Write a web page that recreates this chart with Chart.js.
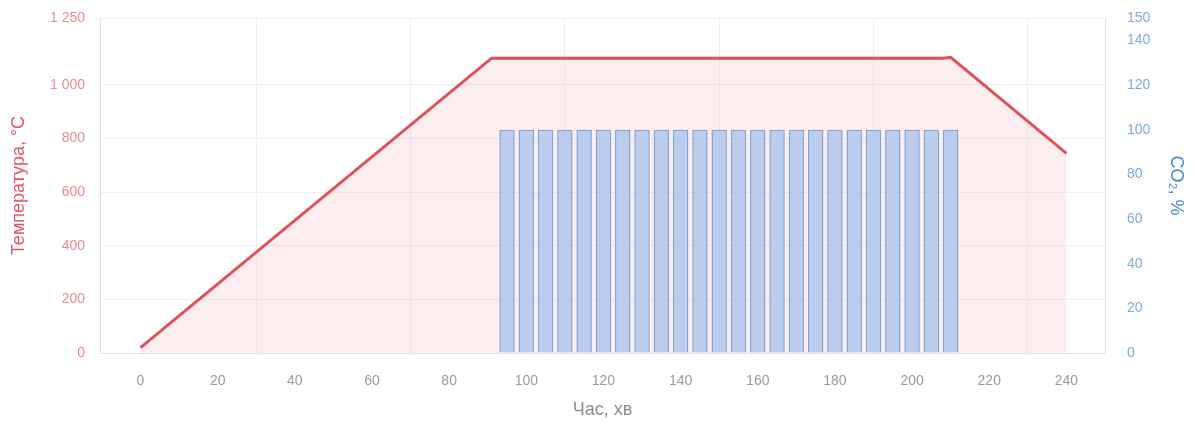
<!DOCTYPE html>
<html>
<head>
<meta charset="utf-8">
<script src="https://cdn.jsdelivr.net/npm/chart.js@4/dist/chart.umd.min.js"></script>
<style>
    html, body { margin: 0; padding: 0; background: #fff; }
    #wrap { width: 1195px; height: 425px; }
</style>
</head>
<body>
<div id="wrap"><canvas id="chart"></canvas></div>
<script>
// Temperature curve (minutes, °C)
const tempTimes = [0, 91, 208, 210, 240];
const tempValues = [20, 1100, 1100, 1103, 745];

// CO2 pulses (minutes, %)
const co2Times = [95, 100, 105, 110, 115, 120, 125, 130, 135, 140, 145, 150,
                  155, 160, 165, 170, 175, 180, 185, 190, 195, 200, 205, 210];
const co2Values = [100, 100, 100, 100, 100, 100, 100, 100, 100, 100, 100, 100,
                   100, 100, 100, 100, 100, 100, 100, 100, 100, 100, 100, 100];

// Axis ticks
const xTicks = [0, 20, 40, 60, 80, 100, 120, 140, 160, 180, 200, 220, 240];
const xGridLines = [30, 70, 110, 150, 190, 230];
const tempTicks = [0, 200, 400, 600, 800, 1000, 1250];
const co2Ticks = [0, 20, 40, 60, 80, 100, 120, 140, 150];

const FONT = "'Liberation Sans', Arial, sans-serif";
const GRID = '#efefef';
const BORDER = '#e2e2e2';

// "1250" -> "1 250"
const spaced = v => String(v).replace(/\B(?=(\d{3})+(?!\d))/g, ' ');
const setTicks = list => scale => { scale.ticks = list.map(v => ({ value: v })); };
// fixed side width; drop the extra top/bottom padding that tick padding adds
const sideWidth = w => s => { s.width = w; s.paddingTop = 0; s.paddingBottom = 0; };

new Chart(document.getElementById('chart'), {
    type: 'line',
    data: {
        datasets: [
            {
                label: 'Температура',
                data: tempTimes.map((t, i) => ({ x: t, y: tempValues[i] })),
                yAxisID: 'y',
                borderColor: '#e0505c',
                backgroundColor: 'rgba(235, 120, 120, 0.13)',
                borderWidth: 3,
                pointRadius: 0,
                tension: 0,
                fill: 'origin',
                order: 2,
            },
            {
                type: 'bar',
                label: 'CO₂',
                data: co2Times.map((t, i) => ({ x: t, y: co2Values[i] })),
                yAxisID: 'y2',
                backgroundColor: 'rgba(170, 195, 236, 0.8)',
                borderColor: '#7fa4dc',
                borderWidth: 1.5,
                barPercentage: 0.8,
                categoryPercentage: 1,
                order: 1,
            },
        ],
    },
    options: {
        responsive: true,
        maintainAspectRatio: false,
        animation: false,
        layout: { padding: { top: 18, left: 0, right: 0, bottom: 0 } },
        plugins: {
            legend: { display: false },
            tooltip: { enabled: false },
        },
        scales: {
            x: {
                type: 'linear',
                position: 'bottom',
                min: -10.5,
                max: 250,
                offset: false,
                afterBuildTicks: setTicks(xTicks),
                afterFit: s => { s.height = 72; },
                grid: { display: false, drawTicks: false, offset: false },
                border: { display: true, color: BORDER },
                ticks: { color: '#9a9a9a', padding: 20, font: { family: FONT, size: 14 } },
                title: {
                    display: true,
                    text: 'Час, хв',
                    color: '#8c8c8c',
                    font: { family: FONT, size: 18 },
                    padding: { top: 0, bottom: 4 },
                },
            },
            xg: {
                type: 'linear',
                position: 'bottom',
                min: -10.5,
                max: 250,
                offset: false,
                afterBuildTicks: setTicks(xGridLines),
                afterFit: s => { s.height = 0; },
                grid: { color: GRID, drawTicks: false, offset: false },
                border: { display: false },
                ticks: { display: false },
            },
            y: {
                position: 'left',
                min: 0,
                max: 1250,
                afterBuildTicks: setTicks(tempTicks),
                afterFit: sideWidth(100),
                grid: { color: GRID, drawTicks: false },
                border: { display: true, color: BORDER },
                ticks: {
                    color: '#ea8a92',
                    padding: 15,
                    font: { family: FONT, size: 14 },
                    callback: v => spaced(v),
                },
                title: {
                    display: true,
                    text: 'Температура, °C',
                    color: '#e0566a',
                    font: { family: FONT, size: 18 },
                    padding: { top: 8, bottom: 0 },
                },
            },
            y2: {
                position: 'right',
                min: 0,
                max: 150,
                afterBuildTicks: setTicks(co2Ticks),
                afterFit: sideWidth(90),
                grid: { drawOnChartArea: false, drawTicks: false },
                border: { display: true, color: BORDER },
                ticks: {
                    color: '#7fa8de',
                    padding: 22,
                    font: { family: FONT, size: 14 },
                },
                title: {
                    display: true,
                    text: 'CO₂, %',
                    color: '#4a86d4',
                    font: { family: FONT, size: 18 },
                    padding: { top: 8, bottom: 0 },
                },
            },
        },
    },
});
</script>
</body>
</html>
